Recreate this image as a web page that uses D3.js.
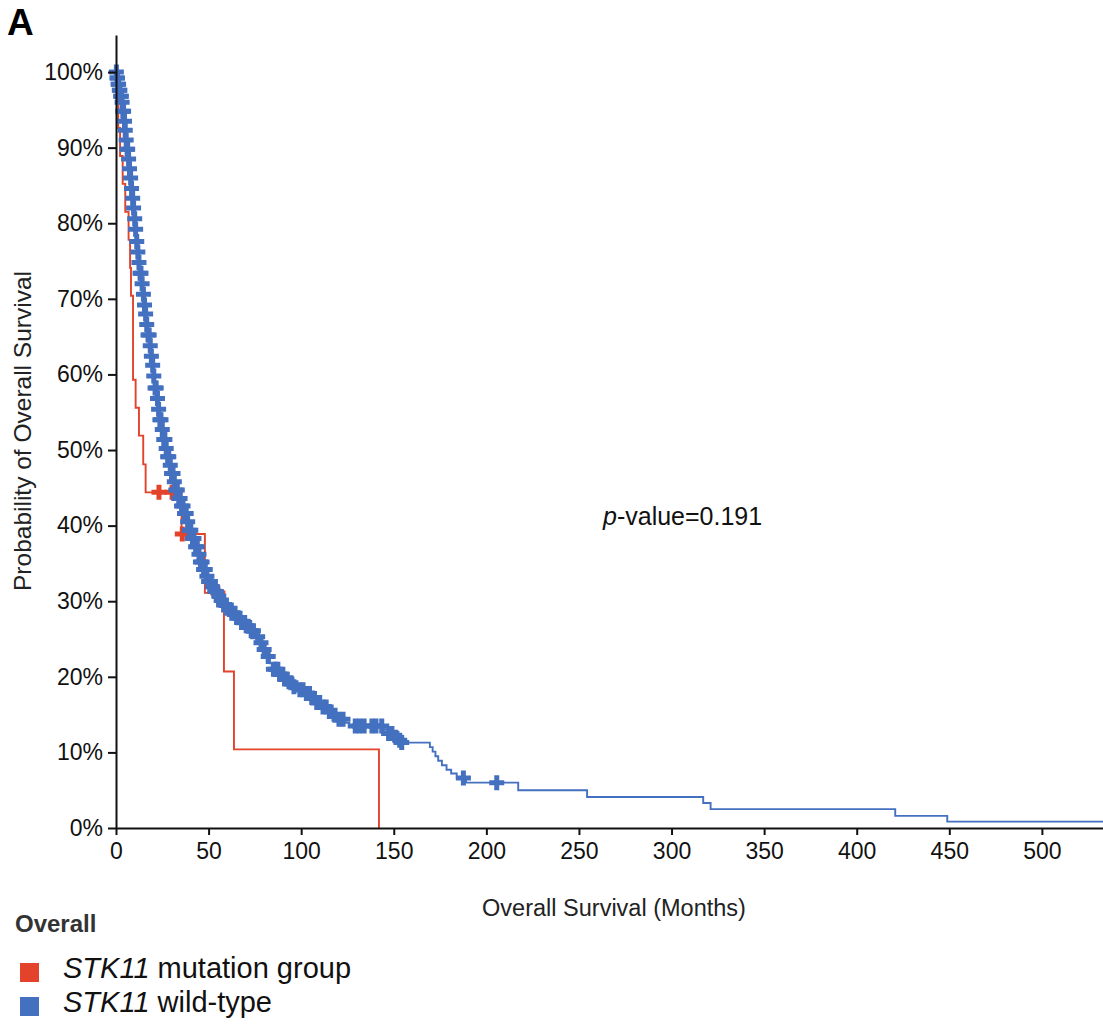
<!DOCTYPE html>
<html><head><meta charset="utf-8">
<script src="https://cdn.jsdelivr.net/npm/d3@7"></script>
<style>
body{margin:0;background:#fff;}
text{font-family:"Liberation Sans",Arial,Helvetica,sans-serif;}
</style>
</head><body>
<svg id="chart" width="1103" height="1026"></svg>
<script>
// ---- data ----
const xTickValues = [0,50,100,150,200,250,300,350,400,450,500];
const yTickValues = [0,10,20,30,40,50,60,70,80,90,100];
const groupNames = ["mutation group","wild-type"];
const groupColors = ["#e2432a","#4470c0"];

// STK11 mutation group: event times (months) and survival (%) after each step
const mutTime = [0.5,1.2,2.2,3.6,5.0,6.8,7.6,8.1,9.2,10.6,12.4,14.7,16.0,35.4,48.0,58.3,63.7,142.0];
const mutSurv = [96.3,92.6,88.9,85.2,81.5,77.8,74.1,70.4,59.3,55.6,51.9,48.1,44.4,38.9,31.1,20.7,10.4,0];
const mutCensor = [23.2,30.3,35.8,55.0];

// STK11 wild-type
const wtTime = [0.5,1,1.6,2.2,3,3.6,4.2,4.9,5.4,5.8,6.4,7,7.6,8.2,8.7,9.2,9.8,10.3,11,11.6,12.2,12.9,13.6,14.3,15,15.7,16.4,17.2,18,18.7,19.4,20.2,21,21.8,22.6,23.5,24.4,25.5,26.6,27.6,28.6,29.8,31,32.2,33.6,35,36.5,38,39.5,41,42.5,44,45.5,47,48.5,50,51.5,53,54.5,56,58,60,62.5,65,67.5,70,72.5,75,77,79,81,83,85,87.5,90,93,96,99,102,105,108,111,114,117,120,123,126,145,147,149.5,151.5,153.5,169.5,171,172.5,174,176,178.5,181,184,189,217.2,254.4,317.1,321.1,420.8,448.9];
const wtSurv = [99.2,98.4,97.6,96.8,96,94.8,93.5,92.3,91,89.8,88.5,87.2,86,84.6,83.3,82,80.6,79.2,77.6,76.2,74.8,73.4,72,70.6,69.2,68,66.6,65.2,63.8,62.4,61.2,59.8,58.2,56.8,55.4,54,52.7,51.4,50.2,49.1,48,46.9,45.8,44.7,43.6,42.6,41.6,40.5,39.4,38.3,37.2,36.2,35.2,34.2,33.3,32.6,31.9,31.3,30.7,30.1,29.5,28.9,28.4,27.8,27.2,26.7,26.1,25.3,24.5,23.6,22.7,21.8,21,20.3,19.7,19.2,18.7,18.3,17.8,17.2,16.6,16,15.4,14.9,14.4,13.9,13.5,13,12.5,12,11.6,11.3,10.7,10.1,9.5,8.9,8.3,7.7,7.2,6.6,6.0,5.0,4.1,3.3,2.5,1.6,0.84];
const wtCensor = [0.2,0.5,0.8,1.1,1.4,1.8,2.1,2.5,2.9,3.3,3.7,4.1,4.6,5.0,5.5,6.0,6.3,6.8,7.3,7.9,8.4,9.0,9.5,10.1,10.6,11.2,11.8,12.4,13.0,13.5,14.1,14.8,15.4,16.0,16.6,17.3,17.9,18.5,19.1,19.8,20.4,21.1,21.7,22.4,23.0,23.7,24.3,25.0,25.8,26.4,27.1,27.9,28.5,29.3,30.0,30.8,31.5,32.3,33.1,33.9,34.6,35.4,36.2,37.0,37.9,38.7,39.6,40.4,41.3,42.1,43.0,43.9,44.8,45.6,46.5,47.3,48.2,49.1,50.0,51.0,52.1,53.3,54.2,55.5,56.8,58.1,59.6,61.2,62.5,64.3,66.0,67.8,69.5,71.4,73.0,74.2,76.5,78.3,80.0,82.2,85.0,86.3,87.4,88.6,89.7,91.0,92.3,94.5,96.1,99.3,101.0,102.8,104.5,106.2,108.4,110.0,111.8,113.5,115.2,118.3,120.4,122.6,129.2,131.5,134.0,138.2,140.4,143.5,147.2,149.0,151.1,153.2,154.3,187.6,205.6];

// ---- drawing ----
const svg = d3.select("#chart");
const x = d3.scaleLinear().domain([0,533]).range([116,1103]);
const y = d3.scaleLinear().domain([0,104.9]).range([828,35]);

function stepPoints(times, surv, end){
  const pts=[[0,100]];
  times.forEach((t,i)=>pts.push([t,surv[i]]));
  if(end!=null) pts.push([end, surv[surv.length-1]]);
  return pts;
}
function survAt(times, surv, t){
  let s=100;
  for(let i=0;i<times.length;i++){ if(times[i]<=t) s=surv[i]; else break; }
  return s;
}
const line = d3.line().x(d=>x(d[0])).y(d=>y(d[1])).curve(d3.curveStepAfter);
const cross = d3.symbol().type(d3.symbolCross).size(125);

function drawGroup(times, surv, censor, color, end){
  svg.append("path").datum(stepPoints(times,surv,end))
    .attr("d",line).attr("fill","none").attr("stroke",color).attr("stroke-width",1.9);
  svg.append("g").selectAll("path").data(censor).join("path")
    .attr("d",cross)
    .attr("transform",t=>`translate(${x(t)},${y(survAt(times,surv,t))})`)
    .attr("fill",color);
}
drawGroup(mutTime, mutSurv, mutCensor, groupColors[0], null);
drawGroup(wtTime, wtSurv, wtCensor, groupColors[1], 533);

// axes
const xAxis = svg.append("g").attr("transform","translate(0,828)")
  .call(d3.axisBottom(x).tickValues(xTickValues).tickSize(7).tickPadding(8).tickSizeOuter(0));
const yAxis = svg.append("g").attr("transform","translate(116,0)")
  .call(d3.axisLeft(y).tickValues(yTickValues).tickFormat(d=>d+"%").tickSize(8).tickPadding(5).tickSizeOuter(0));
[xAxis,yAxis].forEach(a=>{
  a.select(".domain").attr("stroke","#111").attr("stroke-width",2);
  a.selectAll(".tick line").attr("stroke","#111").attr("stroke-width",2);
  a.selectAll(".tick text").attr("fill","#111").style("font-size","23px")
    .style("font-family","'Liberation Sans',Arial,sans-serif");
});

// titles
svg.append("text").attr("x",7).attr("y",35).text("A")
  .style("font-size","37px").style("font-weight","bold").attr("fill","#000");
svg.append("text").attr("x",614).attr("y",916).attr("text-anchor","middle")
  .text("Overall Survival (Months)").style("font-size","23.5px").attr("fill","#222");
svg.append("text").attr("transform","translate(31,431) rotate(-90)").attr("text-anchor","middle")
  .text("Probability of Overall Survival").style("font-size","24.5px").attr("fill","#222");
const pv = svg.append("text").attr("x",603).attr("y",525).style("font-size","25px").attr("fill","#111");
pv.append("tspan").style("font-style","italic").text("p");
pv.append("tspan").text("-value=0.191");

// legend
svg.append("text").attr("x",15).attr("y",932).text("Overall")
  .style("font-size","24px").style("font-weight","bold").attr("fill","#333");
const legY = [963,997];
groupNames.forEach((name,i)=>{
  svg.append("rect").attr("x",20).attr("y",legY[i]).attr("width",19).attr("height",19).attr("fill",groupColors[i]);
  const t = svg.append("text").attr("x",63).attr("y",legY[i]+15).style("font-size","29px").attr("fill","#111");
  t.append("tspan").style("font-style","italic").text("STK11");
  t.append("tspan").text(" "+name);
});
</script>
</body></html>
